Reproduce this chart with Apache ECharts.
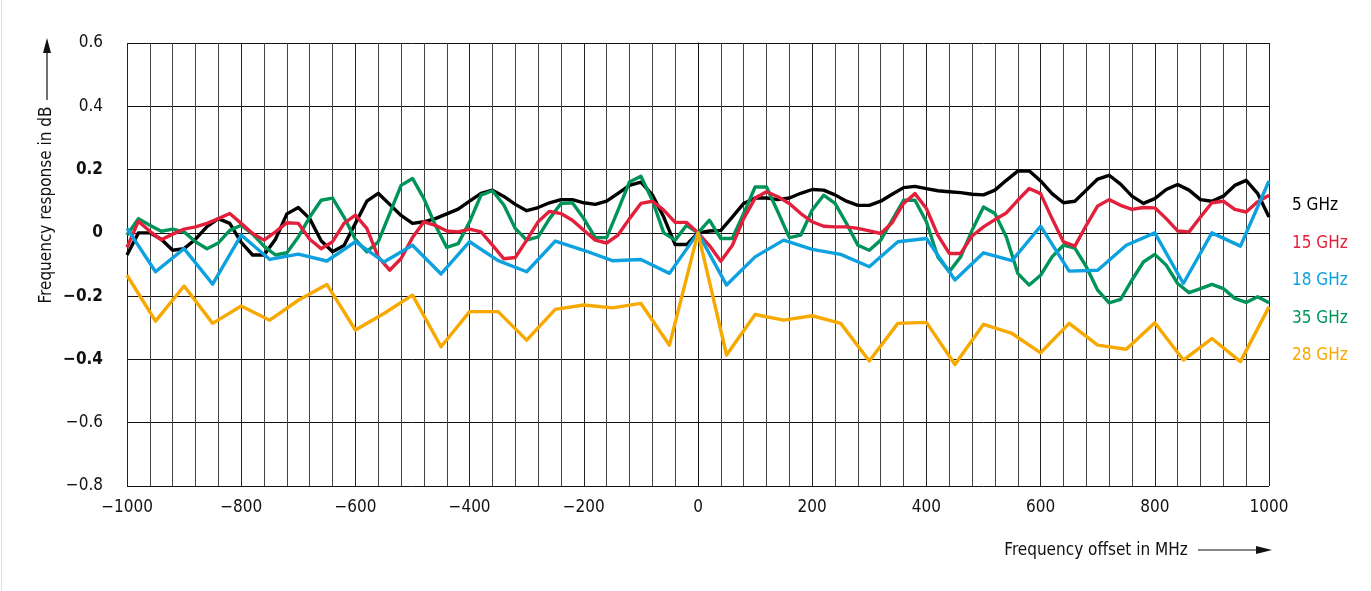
<!DOCTYPE html>
<html>
<head>
<meta charset="utf-8">
<script src="https://cdn.jsdelivr.net/npm/echarts@6/dist/echarts.min.js"></script>
<style>
html,body{margin:0;padding:0;background:#fff;}
#chart{width:1371px;height:591px;}
</style>
</head>
<body>
<div id="chart"></div>
<script>
// Frequency offsets (MHz)
const freqFine = [-1000,-980,-960,-940,-920,-900,-880,-860,-840,-820,-800,-780,-760,-740,-720,-700,-680,-660,-640,-620,-600,-580,-560,-540,-520,-500,-480,-460,-440,-420,-400,-380,-360,-340,-320,-300,-280,-260,-240,-220,-200,-180,-160,-140,-120,-100,-80,-60,-40,-20,0,20,40,60,80,100,120,140,160,180,200,220,240,260,280,300,320,340,360,380,400,420,440,460,480,500,520,540,560,580,600,620,640,660,680,700,720,740,760,780,800,820,840,860,880,900,920,940,960,980,1000];
const freqCoarse = [-1000,-950,-900,-850,-800,-750,-700,-650,-600,-550,-500,-450,-400,-350,-300,-250,-200,-150,-100,-50,0,50,100,150,200,250,300,350,400,450,500,550,600,650,700,750,800,850,900,950,1000];

// Frequency response in dB
const ghz5 = [-0.07,0.00,0.00,-0.02,-0.055,-0.05,-0.02,0.02,0.045,0.03,-0.03,-0.07,-0.07,-0.02,0.06,0.08,0.045,-0.025,-0.06,-0.04,0.03,0.10,0.125,0.09,0.055,0.03,0.035,0.045,0.06,0.075,0.10,0.125,0.135,0.115,0.09,0.07,0.08,0.095,0.105,0.105,0.095,0.09,0.10,0.125,0.15,0.16,0.12,0.05,-0.037,-0.037,0,0.006,0.008,0.05,0.093,0.11,0.11,0.105,0.11,0.125,0.137,0.135,0.12,0.10,0.087,0.087,0.10,0.122,0.143,0.147,0.14,0.133,0.13,0.127,0.122,0.12,0.135,0.166,0.195,0.196,0.164,0.124,0.095,0.10,0.135,0.17,0.182,0.154,0.116,0.093,0.108,0.137,0.153,0.135,0.105,0.10,0.116,0.15,0.166,0.125,0.05];
const ghz15 = [-0.046,0.037,0.005,-0.022,-0.004,0.012,0.019,0.03,0.045,0.061,0.03,-0.002,-0.023,0.003,0.032,0.03,-0.02,-0.05,-0.028,0.03,0.056,0.014,-0.076,-0.118,-0.081,-0.015,0.035,0.024,0.006,0.003,0.012,0.003,-0.039,-0.082,-0.078,-0.023,0.035,0.068,0.061,0.04,0.008,-0.023,-0.032,-0.007,0.045,0.093,0.10,0.072,0.033,0.033,0,-0.04,-0.09,-0.04,0.045,0.11,0.13,0.114,0.093,0.061,0.035,0.021,0.019,0.019,0.014,0.006,-0.002,0.032,0.093,0.124,0.077,-0.007,-0.065,-0.065,-0.01,0.019,0.042,0.063,0.103,0.14,0.124,0.045,-0.028,-0.042,0.024,0.085,0.105,0.087,0.074,0.08,0.079,0.045,0.006,0.003,0.05,0.095,0.10,0.074,0.066,0.098,0.119];
const ghz35 = [-0.007,0.045,0.024,0.005,0.012,0.003,-0.028,-0.05,-0.032,0.008,0.024,-0.004,-0.042,-0.07,-0.063,-0.013,0.05,0.103,0.11,0.05,-0.021,-0.06,-0.028,0.061,0.15,0.172,0.108,0.024,-0.046,-0.034,0.035,0.119,0.133,0.088,0.014,-0.023,-0.013,0.045,0.093,0.095,0.045,-0.015,-0.015,0.072,0.161,0.179,0.103,0.0,-0.023,0.024,0,0.04,-0.018,-0.018,0.061,0.145,0.145,0.066,-0.015,-0.007,0.072,0.119,0.093,0.03,-0.039,-0.055,-0.023,0.04,0.103,0.103,0.035,-0.076,-0.123,-0.076,0.008,0.082,0.061,-0.013,-0.128,-0.165,-0.134,-0.076,-0.039,-0.048,-0.107,-0.181,-0.221,-0.21,-0.149,-0.092,-0.068,-0.102,-0.16,-0.189,-0.176,-0.163,-0.176,-0.207,-0.22,-0.202,-0.221];
const ghz18 = [0.014,-0.123,-0.05,-0.162,-0.007,-0.084,-0.067,-0.089,-0.028,-0.092,-0.039,-0.13,-0.028,-0.088,-0.123,-0.026,-0.055,-0.088,-0.084,-0.128,0,-0.165,-0.076,-0.023,-0.052,-0.068,-0.107,-0.028,-0.018,-0.149,-0.063,-0.088,0.021,-0.121,-0.118,-0.039,0.0,-0.16,0.0,-0.042,0.164];
const ghz28 = [-0.134,-0.279,-0.168,-0.286,-0.231,-0.276,-0.213,-0.163,-0.307,-0.255,-0.197,-0.36,-0.249,-0.249,-0.339,-0.242,-0.228,-0.237,-0.223,-0.355,0,-0.386,-0.258,-0.276,-0.262,-0.286,-0.405,-0.286,-0.283,-0.416,-0.289,-0.318,-0.379,-0.286,-0.355,-0.368,-0.284,-0.402,-0.334,-0.407,-0.234];

const seriesNames = ['5 GHz','15 GHz','18 GHz','35 GHz','28 GHz'];
const boldTicks = [0.2, 0, -0.2, -0.4];

const FONT = "'Liberation Sans Narrow', 'DejaVu Sans Condensed', 'Arial Narrow', sans-serif";
const colors = {
  '5 GHz': '#000000',
  '15 GHz': '#e3203c',
  '18 GHz': '#0ea1e0',
  '35 GHz': '#00935a',
  '28 GHz': '#f7a900'
};

function pair(xs, ys) { return xs.map((x, i) => [x, ys[i]]); }
function minus(v) { return v < 0 ? '\u2212' + String(-v) : String(v); }

const chart = echarts.init(document.getElementById('chart'), null, {renderer: 'canvas'});

function mkSeries(name, xs, ys) {
  return {
    name: name,
    type: 'line',
    data: pair(xs, ys),
    showSymbol: false,
    symbol: 'none',
    lineStyle: {color: colors[name], width: 3.4, join: 'round'},
    itemStyle: {color: colors[name]},
    animation: false,
    silent: true
  };
}

const option = {
  backgroundColor: '#ffffff',
  animation: false,
  grid: {left: 127, right: 102, top: 43, bottom: 105, containLabel: false},
  xAxis: {
    type: 'value',
    min: -1000, max: 1000, interval: 200,
    axisLine: {show: true, lineStyle: {color: '#111', width: 1}},
    axisTick: {show: true, length: 9, lineStyle: {color: '#111', width: 1}},
    minorTick: {show: false, splitNumber: 5},
    splitLine: {show: true, lineStyle: {color: '#222', width: 1}},
    minorSplitLine: {show: true, lineStyle: {color: '#444', width: 1}},
    axisLabel: {
      margin: 13, color: '#111', fontSize: 17, fontFamily: FONT,
      formatter: v => minus(v)
    }
  },
  yAxis: {
    type: 'value',
    min: -0.8, max: 0.6, interval: 0.2,
    axisLine: {show: true, lineStyle: {color: '#111', width: 1}},
    axisTick: {show: true, length: 9, lineStyle: {color: '#111', width: 1}},
    splitLine: {show: true, lineStyle: {color: '#111', width: 1}},
    axisLabel: {
      margin: 24, color: '#111', fontSize: 17, fontFamily: FONT,
      formatter: function (v) {
        const r = Math.round(v * 10) / 10;
        const txt = r === 0 ? '0' : (r < 0 ? '\u2212' : '') + Math.abs(r).toFixed(1);
        const isBold = boldTicks.some(b => Math.abs(b - r) < 1e-6);
        return isBold ? '{b|' + txt + '}' : txt;
      },
      rich: {b: {fontWeight: 'bold', fontSize: 17, fontFamily: FONT, color: '#111'}}
    }
  },
  legend: {
    orient: 'vertical',
    left: 1282, top: 191,
    icon: 'none',
    itemWidth: 0, itemHeight: 20,
    itemGap: 17.5,
    selectedMode: false,
    textStyle: {fontSize: 17, fontFamily: FONT, lineHeight: 20},
    data: seriesNames.map(n => ({name: n, textStyle: {color: colors[n]}}))
  },
  graphic: [
    {type: 'line', shape: {x1: 1.5, y1: 0, x2: 1.5, y2: 591}, style: {stroke: '#dddddd', lineWidth: 1}, silent: true},
    {type: 'text', x: 47, y: 205, rotation: Math.PI / 2,
      style: {text: 'Frequency response in dB', font: '17px ' + FONT, fill: '#111', align: 'center', verticalAlign: 'middle'}, silent: true},
    {type: 'line', shape: {x1: 47, y1: 100, x2: 47, y2: 50}, style: {stroke: '#111', lineWidth: 1.2}, silent: true},
    {type: 'polygon', shape: {points: [[47, 38], [43, 53], [51, 53]]}, style: {fill: '#111'}, silent: true},
    {type: 'text', x: 1096, y: 551,
      style: {text: 'Frequency offset in MHz', font: '17px ' + FONT, fill: '#111', align: 'center', verticalAlign: 'middle'}, silent: true},
    {type: 'line', shape: {x1: 1198, y1: 550, x2: 1258, y2: 550}, style: {stroke: '#111', lineWidth: 1.2}, silent: true},
    {type: 'polygon', shape: {points: [[1272, 550], [1256, 546], [1256, 554]]}, style: {fill: '#111'}, silent: true}
  ],
  series: [
    mkSeries('5 GHz', freqFine, ghz5),
    mkSeries('35 GHz', freqFine, ghz35),
    mkSeries('15 GHz', freqFine, ghz15),
    mkSeries('18 GHz', freqCoarse, ghz18),
    mkSeries('28 GHz', freqCoarse, ghz28)
  ]
};
chart.setOption(option);
</script>
</body>
</html>
